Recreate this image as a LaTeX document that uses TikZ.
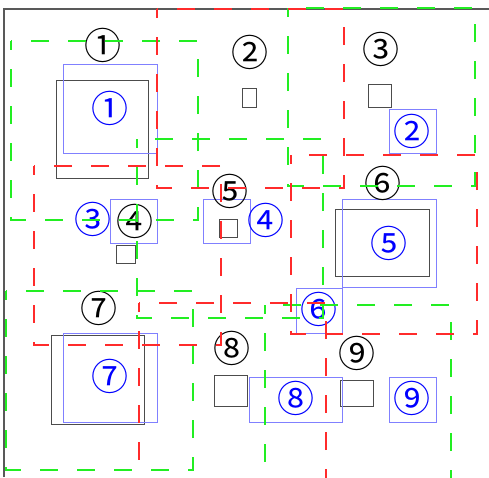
\documentclass[tikz,border=0pt]{standalone}
\usepackage{fontspec}
\newfontfamily\jpfont{Noto Sans CJK JP}
\definecolor{regred}{HTML}{FF2B2B}
\definecolor{reggreen}{HTML}{22EE22}
\definecolor{predblue}{HTML}{8080FF}

\begin{document}
\begin{tikzpicture}[x=1pt, y=-1pt,
    gtbox/.style={draw=black!70, line width=0.8pt},
    predbox/.style={draw=predblue, line width=0.8pt},
    greenreg/.style={draw=reggreen, line width=1.5pt, dash pattern=on 18pt off 19pt, dash phase=9pt},
    redreg/.style={draw=regred, line width=1.5pt, dash pattern=on 18pt off 19pt, dash phase=9pt},
    numlbl/.style={font=\jpfont\fontsize{37}{37}\selectfont, inner sep=0pt},
    predlbl/.style={numlbl, text=blue}]
    \useasboundingbox (0, 0) rectangle (489, 477);
    \clip (0, 0) rectangle (489, 477);
    \draw[black!65, line width=1.4pt] (4, 477) -- (4, 9) -- (489, 9);

    \draw[gtbox] (56, 80) rectangle (148, 178);
    \draw[gtbox] (242, 88) rectangle (256, 107);
    \draw[gtbox] (368, 84) rectangle (391, 107);
    \draw[gtbox] (116, 245) rectangle (135, 263);
    \draw[gtbox] (219, 219) rectangle (237, 237);
    \draw[gtbox] (335, 209) rectangle (429, 276);
    \draw[gtbox] (51, 335) rectangle (144, 424);
    \draw[gtbox] (214, 375) rectangle (247, 406);
    \draw[gtbox] (340, 380) rectangle (373, 406);

    \draw[predbox] (63, 64) rectangle (157, 153);
    \draw[predbox] (389, 109) rectangle (436, 153);
    \draw[predbox] (110, 199) rectangle (157, 243);
    \draw[predbox] (203, 199) rectangle (250, 243);
    \draw[predbox] (342, 199) rectangle (436, 287);
    \draw[predbox] (296, 288) rectangle (342, 333);
    \draw[predbox] (63, 333) rectangle (157, 422);
    \draw[predbox] (249, 377) rectangle (342, 422);
    \draw[predbox] (389, 377) rectangle (436, 422);

    \node[numlbl] (n1) at (103, 45) {①};
    \node[numlbl] (n2) at (250, 52) {②};
    \node[numlbl] (n3) at (381, 49) {③};
    \node[numlbl] (n4) at (135, 221.7) {④};
    \node[numlbl] (n5) at (230, 191) {⑤};
    \node[numlbl] (n6) at (383, 183) {⑥};
    \node[numlbl] (n7) at (99, 308.7) {⑦};
    \node[numlbl] (n8) at (232.3, 348.7) {⑧};
    \node[numlbl] (n9) at (357.3, 353) {⑨};

    \node[predlbl] (p1) at (110, 108) {①};
    \node[predlbl] (p2) at (412.3, 131) {②};
    \node[predlbl] (p3) at (93.3, 219.5) {③};
    \node[predlbl] (p4) at (265.7, 220) {④};
    \node[predlbl] (p5) at (389.3, 243) {⑤};
    \node[predlbl] (p6) at (319, 309.7) {⑥};
    \node[predlbl] (p7) at (110, 376.3) {⑦};
    \node[predlbl] (p8) at (296, 398.7) {⑧};
    \node[predlbl] (p9) at (412.3, 398.7) {⑨};

    \draw[greenreg] (11, 41) rectangle (198, 220);
    \draw[greenreg] (137, 139) rectangle (323, 318);
    \draw[greenreg] (288, 8) rectangle (475, 186);
    \draw[greenreg] (6, 291) rectangle (193, 470);
    \draw[greenreg] (265, 305) rectangle (451, 484);

    \draw[redreg] (157, 9) rectangle (344, 188);
    \draw[redreg] (34, 166) rectangle (221, 345);
    \draw[redreg] (291, 155) rectangle (477, 334);
    \draw[redreg] (139, 303) rectangle (326, 482);
\end{tikzpicture}
\end{document}
